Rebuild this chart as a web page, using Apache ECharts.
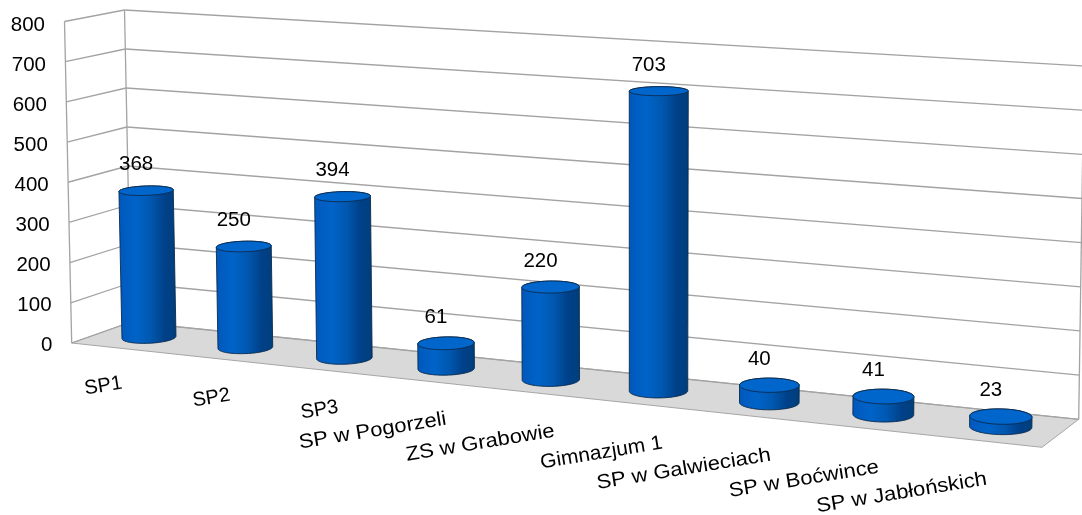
<!DOCTYPE html>
<html>
<head>
<meta charset="utf-8">
<style>html,body{margin:0;padding:0;background:#fff}#c{width:1082px;height:515px}</style>
<script src="https://cdn.jsdelivr.net/npm/echarts@6/dist/echarts.min.js"></script>
</head>
<body>
<div id="c"></div>
<script>
const categories = ['SP1','SP2','SP3','SP w Pogorzeli','ZS w Grabowie','Gimnazjum 1','SP w Galwieciach','SP w Boćwince','SP w Jabłońskich'];
const pupils = [368,250,394,61,220,703,40,41,23];
const yTicks = [0,100,200,300,400,500,600,700,800];

// Perspective calibration of the chart box
const GRID = {left:72, top:24, width:960, height:320};
const FLOOR = [[71.7,343],[1042,447.3],[1078.7,419.3],[131,322]]; // front-left, front-right, back-right, back-left
const RISE = [[-7.2,-321.5],[5.5,-364],[5.3,-353.3],[-6.5,-312]]; // full-height vector at the same corners
const FONT = '20.5px "Liberation Sans", Arial, sans-serif';
const XFONT = '20px "Liberation Sans", Arial, sans-serif';

function buildCamera(){
  const [p0,p1,p2,p3]=FLOOR;
  const dx1=p1[0]-p2[0],dx2=p3[0]-p2[0],sx=p0[0]-p1[0]+p2[0]-p3[0];
  const dy1=p1[1]-p2[1],dy2=p3[1]-p2[1],sy=p0[1]-p1[1]+p2[1]-p3[1];
  const den=dx1*dy2-dx2*dy1;
  const g=(sx*dy2-dx2*sy)/den,i=(dx1*sy-sx*dy1)/den;
  const a=p1[0]-p0[0]+g*p1[0],b=p3[0]-p0[0]+i*p3[0],tx=p0[0];
  const d=p1[1]-p0[1]+g*p1[1],e=p3[1]-p0[1]+i*p3[1],ty=p0[1];
  const lerp=(p,q,t)=>p+(q-p)*t;
  return (u,dd,h)=>{
    const w=g*u+i*dd+1;
    const bx=(a*u+b*dd+tx)/w, by=(d*u+e*dd+ty)/w;
    const xl=lerp(p0[0],p3[0],dd), xr=lerp(p1[0],p2[0],dd), t=(bx-xl)/(xr-xl);
    const rx=lerp(lerp(RISE[0][0],RISE[3][0],dd),lerp(RISE[1][0],RISE[2][0],dd),t);
    const ry=lerp(lerp(RISE[0][1],RISE[3][1],dd),lerp(RISE[1][1],RISE[2][1],dd),t);
    return [bx+rx*h,by+ry*h];
  };
}
const project=buildCamera();
const frac=(api,v)=>(GRID.top+GRID.height-api.coord([0,v])[1])/GRID.height;
// category band centre on the floor, eased slightly to follow the picture's spacing
const uOf=(api,i)=>{const u=(api.coord([i,0])[0]-GRID.left)/GRID.width;return u+0.030*u*(1-u);};

function hull(pts){
  const s=pts.slice().sort((a,b)=>a[0]-b[0]||a[1]-b[1]);
  const cross=(o,a,b)=>(a[0]-o[0])*(b[1]-o[1])-(a[1]-o[1])*(b[0]-o[0]);
  const lo=[],up=[];
  s.forEach(p=>{while(lo.length>1&&cross(lo[lo.length-2],lo[lo.length-1],p)<=0)lo.pop();lo.push(p);});
  s.slice().reverse().forEach(p=>{while(up.length>1&&cross(up[up.length-2],up[up.length-1],p)<=0)up.pop();up.push(p);});
  return lo.slice(0,-1).concat(up.slice(0,-1));
}
const GRIDLINE={stroke:'#a3a3a3',lineWidth:1.3};
const line=(a,b)=>({type:'line',shape:{x1:a[0],y1:a[1],x2:b[0],y2:b[1]},style:GRIDLINE});

function renderBox(params,api){
  const h=frac(api,api.value(1));
  const kids=[line(project(0,0,h),project(0,1,h)),line(project(0,1,h),project(1,1,h))];
  if(params.dataIndex===0){
    kids.unshift({type:'polygon',shape:{points:[project(0,0,0),project(1,0,0),project(1,1,0),project(0,1,0)]},
      style:{fill:'#d9d9d9',stroke:'#a6a6a6',lineWidth:1}});
    kids.push(line(project(0,0,0),project(0,0,1)),line(project(0,1,0),project(0,1,1)),line(project(1,1,0),project(1,1,1)));
  }
  return {type:'group',children:kids};
}
function renderYLabel(params,api){
  const v=api.value(1),h=frac(api,v),p=api.coord([0,v]);
  return {type:'text',x:52.5-7.5*h,y:p[1]+1,style:{text:String(v),font:FONT,fill:'#000',align:'right',verticalAlign:'middle'}};
}
const RU=0.0268,RD=0.26;
const BODY={type:'linear',x:0,y:0,x2:1,y2:0,colorStops:[
  {offset:0,color:'#0058bc'},{offset:0.3,color:'#0063c8'},{offset:0.55,color:'#0058b0'},
  {offset:0.8,color:'#004088'},{offset:1,color:'#003f7c'}]};
function renderBar(params,api){
  const u=uOf(api,api.value(0)),h=frac(api,api.value(1));
  const ring=z=>{const r=[];for(let k=0;k<64;k++){const t=k/64*2*Math.PI;
    r.push(project(u+RU*Math.cos(t),0.5+RD*Math.sin(t),z));}return r;};
  const base=ring(0),top=ring(h);
  const c=project(u,0.5,h);
  return {type:'group',children:[
    {type:'polygon',shape:{points:hull(base.concat(top))},style:{fill:BODY,stroke:'#0b2a4d',lineWidth:0.9}},
    {type:'polygon',shape:{points:top},style:{fill:'#0066cc',stroke:'#0b2a4d',lineWidth:0.9}},
    {type:'text',x:c[0]-10,y:c[1]-26,style:{text:String(api.value(1)),font:FONT,fill:'#000',align:'center',verticalAlign:'middle'}}
  ]};
}
function renderXLabel(params,api){
  const i=api.value(0),t=categories[i];
  const stretch=t.includes(' w ')?1.1:(t.length>3?1.05:1);
  return {type:'text',x:122+108.1*i,y:383+12*i,rotation:9.3*Math.PI/180,scaleX:stretch,
    style:{text:t,font:XFONT,fill:'#000',align:'right',verticalAlign:'middle'}};
}
const tickData=yTicks.map(v=>[0,v]);
const barData=pupils.map((v,i)=>[i,v]);
const chart=echarts.init(document.getElementById('c'),null,{renderer:'canvas'});
chart.setOption({
  animation:false,
  backgroundColor:'#fff',
  grid:GRID,
  xAxis:{type:'category',data:categories,show:false},
  yAxis:{type:'value',min:0,max:800,interval:100,show:false},
  series:[
    {type:'custom',coordinateSystem:'cartesian2d',z:1,data:tickData,renderItem:renderBox,silent:true},
    {type:'custom',coordinateSystem:'cartesian2d',z:2,data:tickData,renderItem:renderYLabel,silent:true},
    {type:'custom',coordinateSystem:'cartesian2d',z:3,data:barData,renderItem:renderBar,silent:true},
    {type:'custom',coordinateSystem:'cartesian2d',z:4,data:barData,renderItem:renderXLabel,silent:true}
  ]
});
</script>
</body>
</html>
